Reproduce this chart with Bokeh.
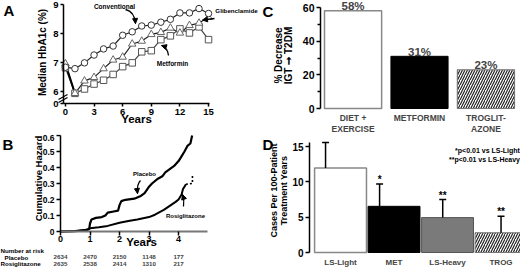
import math
from bokeh.plotting import figure
from bokeh.models import Label, Arrow, NormalHead, FixedTicker, Range1d
from bokeh.layouts import row, column
from bokeh.core.properties import value
from bokeh.embed import file_html
from bokeh.resources import INLINE

# ---------------- data ----------------
# Panel A: median HbA1c over 15 years
years = list(range(16))
conventional = [6.85, 6.8, 7.0, 7.27, 7.48, 7.58, 7.95, 8.07, 8.27, 8.3, 8.4, 8.5, 8.72, 8.72, 8.87, 8.7]
glibenclamide = [6.97, 5.95, 6.38, 6.5, 6.8, 7.1, 7.2, 7.65, 7.75, 7.98, 8.05, 8.2, 8.03, 8.29, 8.37, 8.57]
metformin = [6.83, 5.95, 6.1, 6.27, 6.4, 6.6, 6.87, 7.0, 7.38, 7.42, 7.8, 7.93, 8.17, 8.03, 8.24, 7.8]
a_xticks = [0, 3, 6, 9, 12, 15]
a_yticks = [6, 7, 8, 9]

# Panel B: cumulative hazard
b_time_placebo = [0, 0.5, 0.8, 0.97, 1.0, 1.05, 1.2, 1.4, 1.52, 1.6, 1.8, 1.95, 2.0, 2.06, 2.2, 2.5, 2.7,
                  2.85, 3.0, 3.1, 3.3, 3.45, 3.55, 3.7, 3.85, 4.0, 4.1, 4.2, 4.3, 4.4, 4.46]
b_haz_placebo = [0, 0.003, 0.008, 0.015, 0.05, 0.075, 0.085, 0.09, 0.1, 0.118, 0.125, 0.13, 0.165, 0.19,
                 0.198, 0.205, 0.22, 0.24, 0.28, 0.3, 0.33, 0.345, 0.37, 0.39, 0.41, 0.44, 0.47, 0.5,
                 0.535, 0.55, 0.6]
b_time_rosi = [0, 0.5, 0.9, 1.0, 1.3, 1.6, 2.0, 2.3, 2.6, 3.0, 3.2, 3.5, 3.7, 3.9, 4.0, 4.05, 4.1, 4.15,
               4.2, 4.25, 4.45, 4.47, 4.47]
b_haz_rosi = [0, 0.002, 0.01, 0.02, 0.027, 0.035, 0.055, 0.065, 0.075, 0.09, 0.105, 0.135, 0.16, 0.185,
              0.2, 0.215, 0.23, 0.265, 0.28, 0.295, 0.3, 0.3, 0.35]
b_xticks = [0, 1, 2, 3, 4]
b_yticks = [0, 0.1, 0.2, 0.3, 0.4, 0.5, 0.6]
risk_years = [0, 1, 2, 3, 4]
risk_placebo = ["2634", "2470", "2150", "1148", "177"]
risk_rosi = ["2635", "2538", "2414", "1310", "217"]

# Panel C: % decrease IGT -> T2DM
c_cats = ["DIET +\nEXERCISE", "METFORMIN", "TROGLIT-\nAZONE"]
c_values = [58, 31, 23]
c_yticks = [0, 20, 40, 60]
c_minor = [10, 30, 50]

# Panel D: cases per 100 patient-years
d_cats = ["LS-Light", "MET", "LS-Heavy", "TROG"]
d_values = [12.0, 6.55, 4.95, 2.8]
d_upper = [15.6, 9.7, 7.5, 5.15]
d_sig = ["", "*", "**", "**"]
d_yticks = [0, 5, 10, 15]

# ---------------- helpers ----------------
FONT = "Liberation Sans"
W, H = 260, 134


def make_fig(geom, xr, yr):
    """geom = pixel box (left, top, right, bottom) where xr/yr span; the frame
    covers the whole figure so annotations outside the axes box stay visible."""
    fl, ft, fr, fb = geom
    sx = (fr - fl) / (xr[1] - xr[0])
    sy = (fb - ft) / (yr[1] - yr[0])
    full_x = (xr[0] - fl / sx, xr[1] + (W - fr) / sx)
    full_y = (yr[0] - (H - fb) / sy, yr[1] + ft / sy)
    p = figure(width=W, height=H, x_range=Range1d(*full_x), y_range=Range1d(*full_y),
               output_backend="svg", toolbar_location=None,
               min_border_left=0, min_border_right=0, min_border_top=0, min_border_bottom=0)
    p.outline_line_color = None
    p.grid.visible = False
    p.background_fill_color = "white"
    p.border_fill_color = "white"
    p.xaxis.fixed_location = yr[0]
    p.yaxis.fixed_location = xr[0]
    p.xaxis.bounds = xr
    p.yaxis.bounds = yr

    def px(xl, yl):
        return (xr[0] + (xl - fl) / sx, yr[1] - (yl - ft) / sy)
    return p, px


def style_axis(ax, tick_size, ticks=None, minor=None, line_color="black", line_width=1.5):
    ax.axis_line_color = line_color
    ax.axis_line_width = line_width
    ax.major_tick_line_color = "black"
    ax.major_tick_line_width = 1.5
    ax.major_tick_in = 0
    ax.major_tick_out = 4
    ax.minor_tick_line_color = None
    ax.major_label_text_font = FONT
    ax.major_label_text_font_style = "bold"
    ax.major_label_text_font_size = f"{tick_size}px"
    ax.major_label_text_color = "black"
    ax.major_label_standoff = 2
    if ticks is not None:
        ax.ticker = FixedTicker(ticks=ticks, minor_ticks=minor or [])
    if minor:
        ax.minor_tick_line_color = "black"
        ax.minor_tick_line_width = 1.5
        ax.minor_tick_in = 0
        ax.minor_tick_out = 3


def label(p, px, xl, yl, text, size, align="center", baseline="middle", angle=0.0):
    x, y = px(xl, yl)
    p.add_layout(Label(x=x, y=y, text=text, text_font=FONT, text_font_style="bold",
                       text_font_size=f"{size}px", text_align=align, text_baseline=baseline,
                       angle=angle, text_color="black"))


def head():
    return NormalHead(size=5, fill_color="black", line_color="black", line_width=1)


def curved_arrow(p, px, start, ctrl, end):
    (x0, y0), (cx, cy), (x1, y1) = px(*start), px(*ctrl), px(*end)
    p.quadratic(x0=[x0], y0=[y0], cx=[cx], cy=[cy], x1=[x1], y1=[y1],
                line_color="black", line_width=1.3)
    hx, hy = px(end[0] - 0.35 * (end[0] - ctrl[0]), end[1] - 0.35 * (end[1] - ctrl[1]))
    p.add_layout(Arrow(end=head(), x_start=hx, y_start=hy, x_end=x1, y_end=y1,
                       line_color="black", line_width=1.3))


def straight(p, px, a, b, width=1.2, end=None):
    (x0, y0), (x1, y1) = px(*a), px(*b)
    p.add_layout(Arrow(end=end, x_start=x0, y_start=y0, x_end=x1, y_end=y1,
                       line_color="black", line_width=width))


# ---------------- Panel A ----------------
pA, pxA = make_fig((63, 4, 209, 103), (-0.2, 15.1), (5.6, 9.01))
style_axis(pA.xaxis[0], 9.5, a_xticks)
style_axis(pA.yaxis[0], 9.5, [a_yticks[0] - 0.4] + a_yticks)
pA.yaxis[0].major_label_overrides = {a_yticks[0] - 0.4: "0"}
pA.xaxis[0].major_tick_out = 3
pA.yaxis[0].major_tick_out = 3

pA.line(years, metformin, line_color="#444", line_width=1.2)
pA.line(years, glibenclamide, line_color="#222", line_width=1.2)
pA.line(years, conventional, line_color="#222", line_width=1.2)
pA.line(years[:2], glibenclamide[:2], line_color="black", line_width=2)
pA.scatter(years, metformin, marker="square", size=6.5, fill_color="white",
           line_color="#555", line_width=1)
pA.scatter(years, glibenclamide, marker="triangle", size=7.5, fill_color="white",
           line_color="#666", line_width=1)
pA.scatter(years, conventional, marker="circle", size=6.5, fill_color="white",
           line_color="#333", line_width=1)

label(pA, pxA, 114, 5.5, "Conventional", 6.5)
curved_arrow(pA, pxA, (125, 9), (134, 11), (135, 23))
label(pA, pxA, 236, 10, "Glibenclamide", 6.2)
straight(pA, pxA, (214, 18), (202, 19.5), 1.3, head())
label(pA, pxA, 172, 63, "Metformin", 6.5)
curved_arrow(pA, pxA, (168, 55), (167, 47), (161, 45))
# axis break marks
straight(pA, pxA, (58, 99), (67, 94), 1.2)
straight(pA, pxA, (58, 102), (67, 97), 1.2)
label(pA, pxA, 136, 118, "Years", 11.5)
label(pA, pxA, 42, 52, "Median HbA1c (%)", 10, angle=math.pi / 2)
label(pA, pxA, 3, 1, "A", 15, align="left", baseline="top")

# ---------------- Panel B ----------------
pB, pxB = make_fig((60, 1, 207, 97), (0, 4.98), (0, 0.6))
style_axis(pB.xaxis[0], 9, b_xticks, line_color="#777", line_width=2)
style_axis(pB.yaxis[0], 8.5, b_yticks)
pB.xaxis[0].major_label_standoff = 0

pB.line(b_time_placebo, b_haz_placebo, line_color="black", line_width=2.2)
n_solid = 19
pB.line(b_time_rosi[:n_solid + 1], b_haz_rosi[:n_solid + 1], line_color="black", line_width=2)
pB.line(b_time_rosi[n_solid:], b_haz_rosi[n_solid:], line_color="black", line_width=1.6,
        line_dash="2 2")

label(pB, pxB, 144, 39, "Placebo", 6)
curved_arrow(pB, pxB, (140, 46), (136, 50), (137, 59))
label(pB, pxB, 185, 81, "Rosiglitazone", 6)
curved_arrow(pB, pxB, (183, 72), (184, 66), (182, 60))
label(pB, pxB, 141, 107, "Years", 11.5)
label(pB, pxB, 38, 44, "Cumulative Hazard", 9.5, angle=math.pi / 2)
label(pB, pxB, 2, 1, "B", 15, align="left", baseline="top")

label(pB, pxB, 0, 116, "Number at risk", 6.2, align="left")
label(pB, pxB, 4, 122.5, "Placebo", 6.2, align="left")
label(pB, pxB, 0, 129, "Rosiglitazone", 6.2, align="left")
for yr_, a_, b_ in zip(risk_years, risk_placebo, risk_rosi):
    yp = pxB(0, 122.5)[1]
    yr2 = pxB(0, 129)[1]
    pB.add_layout(Label(x=yr_, y=yp, text=a_, text_font=FONT, text_font_style="bold",
                        text_font_size="6.2px", text_align="center", text_baseline="middle"))
    pB.add_layout(Label(x=yr_, y=yr2, text=b_, text_font=FONT, text_font_style="bold",
                        text_font_size="6.2px", text_align="center", text_baseline="middle"))

# ---------------- Panel C ----------------
pC, pxC = make_fig((60, 7, 256, 108), (0.51, 3.46), (0, 60))
style_axis(pC.yaxis[0], 10.5, c_yticks, c_minor)
pC.xaxis[0].visible = False
cx = [i + 1 for i in range(len(c_cats))]
pC.vbar(x=cx[0:1], top=c_values[0:1], width=0.86, fill_color="white", line_color="#888",
        line_width=1.5)
pC.vbar(x=cx[1:2], top=c_values[1:2], width=0.86, fill_color="black", line_color="black",
        line_width=1)
pC.vbar(x=cx[2:3], top=c_values[2:3], width=0.86, fill_color="white", line_color="#777",
        line_width=1.2, hatch_pattern="/", hatch_scale=5, hatch_weight=1.2, hatch_color="#222")
for x_, v_ in zip(cx, c_values):
    pC.add_layout(Label(x=x_, y=v_, y_offset=-1.5, text=f"{v_}%", text_font=FONT,
                        text_font_style="bold", text_font_size="11.5px", text_align="center",
                        text_baseline="bottom"))
for x_, c_ in zip(cx, c_cats):
    pC.add_layout(Label(x=x_, y=pxC(0, 112)[1], text=c_, text_font=FONT, text_font_style="bold",
                        text_font_size="8.5px", text_align="center", text_baseline="top",
                        text_line_height=1.15))
label(pC, pxC, 18, 55, "% Decrease", 10, angle=math.pi / 2)
label(pC, pxC, 28, 55, "IGT \u279E T2DM", 10, angle=math.pi / 2)
label(pC, pxC, 2, 2, "C", 15, align="left", baseline="top")

# ---------------- Panel D ----------------
pD, pxD = make_fig((49, 8, 259, 118), (0.42, 4.345), (0, 15.6))
style_axis(pD.yaxis[0], 10, d_yticks)
pD.xaxis[0].visible = False
dx = [i + 1 for i in range(len(d_cats))]
pD.vbar(x=dx[0:1], top=d_values[0:1], width=0.97, fill_color="white", line_color="#888",
        line_width=1.5)
pD.vbar(x=dx[1:2], top=d_values[1:2], width=0.97, fill_color="black", line_color="black",
        line_width=1)
pD.vbar(x=dx[2:3], top=d_values[2:3], width=0.97, fill_color="#7a7a7a", line_color="#555",
        line_width=1)
pD.vbar(x=dx[3:4], top=d_values[3:4], width=0.97, fill_color="white", line_color="#777",
        line_width=1, hatch_pattern="/", hatch_scale=5, hatch_weight=1.2, hatch_color="#222")
whisker_shift = [-0.28, -0.27, -0.09, 0.0]
wx = [x_ + s_ for x_, s_ in zip(dx, whisker_shift)]
pD.segment(x0=wx, y0=d_values, x1=wx, y1=d_upper, line_color="black", line_width=1.5)
pD.segment(x0=[w - 0.065 for w in wx], y0=d_upper, x1=[w + 0.065 for w in wx], y1=d_upper,
           line_color="black", line_width=1.5)
pD.text(x=wx, y=d_upper, text=d_sig, text_font=value(FONT), text_font_style="bold",
        text_font_size="10px", text_align="center", text_baseline="bottom", y_offset=1)
for x_, c_ in zip(dx, d_cats):
    pD.add_layout(Label(x=x_, y=pxD(0, 127.5)[1], text=c_, text_font=FONT,
                        text_font_style="bold", text_font_size="8px", text_align="center",
                        text_baseline="middle"))
label(pD, pxD, 227, 16, "*p<0.01 vs LS-Light", 7)
label(pD, pxD, 224, 25, "**p<0.01 vs LS-Heavy", 7)
label(pD, pxD, 13, 56, "Cases Per 100-Patient", 9, angle=math.pi / 2)
label(pD, pxD, 23, 56, "Treatment Years", 9, angle=math.pi / 2)
label(pD, pxD, 2, 1, "D", 15, align="left", baseline="top")

layout = row(column(pA, pB), column(pC, pD))
open("out.html", "w").write(file_html(layout, INLINE))
